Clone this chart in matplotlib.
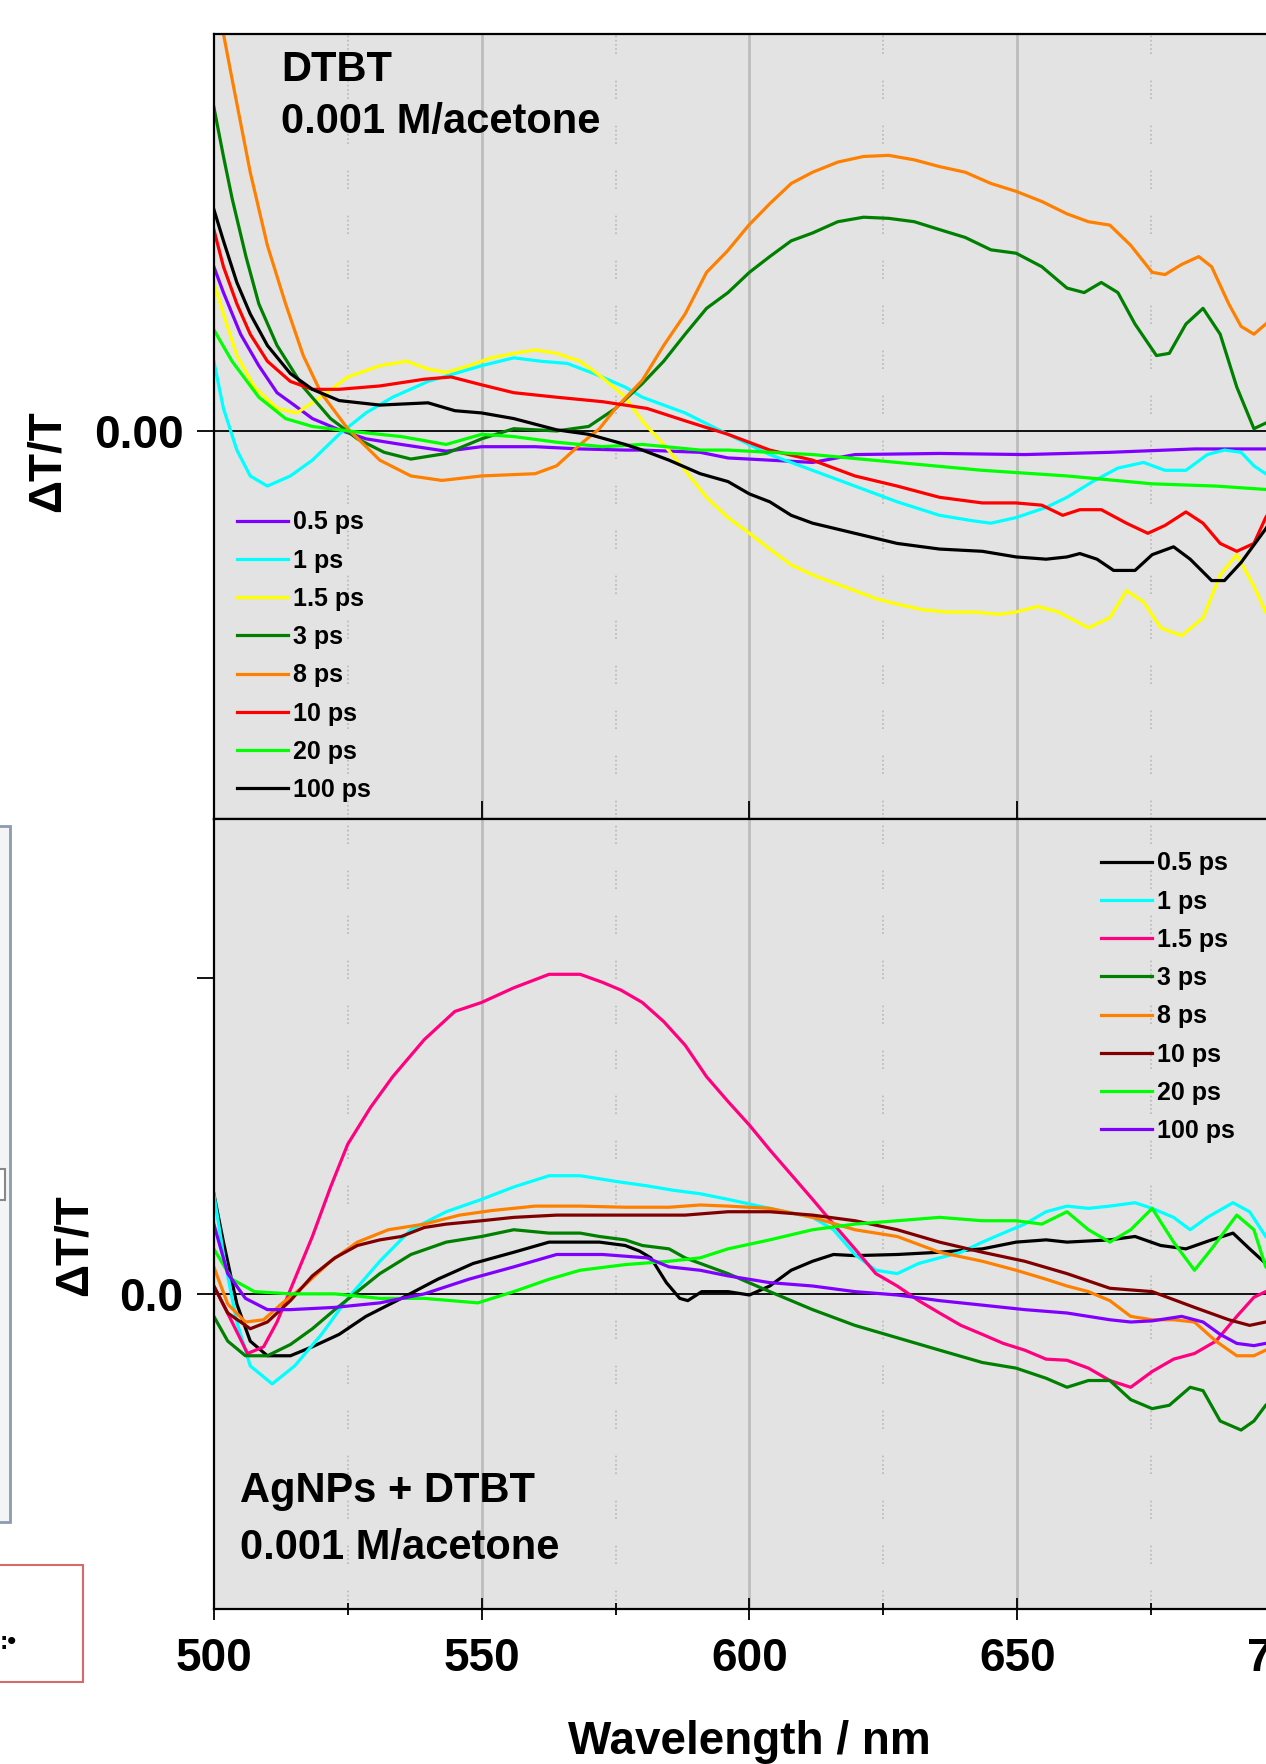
import matplotlib
matplotlib.use("Agg")
import matplotlib.pyplot as plt
from matplotlib.patches import Rectangle
import numpy as np

plt.rcParams['font.family'] = ['Liberation Sans', 'DejaVu Sans']
plt.rcParams['font.weight'] = 'bold'

labels = ["0.5 ps", "1 ps", "1.5 ps", "3 ps", "8 ps", "10 ps", "20 ps", "100 ps"]

# ---- top panel: DTBT (ΔT/T, arbitrary x1e-3 units) ----
x_t05 = [500, 501.8, 505, 508.4, 511.8, 515, 518.4, 523.4, 528.4, 535, 543.4, 550, 560, 568.4,
         576.8, 580, 590.8, 596, 611.8, 619.7, 635.5, 651.4, 667.3, 683.1, 696.4, 700]
y_t05 = [14.6, 12.3, 8.6, 5.8, 3.4, 2.3, 1.1, 0.1, -0.7, -1.2, -1.8, -1.4, -1.4, -1.6,
         -1.7, -1.7, -1.9, -2.4, -2.8, -2.1, -2.0, -2.1, -1.9, -1.6, -1.6, -1.6]

x_t1 = [500, 501.8, 504.3, 506.8, 510, 514.3, 518.4, 523.4, 528.4, 533.4, 540, 545, 550, 556, 561,
        566, 571, 576.8, 580, 588, 596, 603.8, 611.8, 619.7, 627.6, 635.5, 641.9, 645.1, 649.8,
        655.4, 659.3, 664.1, 668.8, 673.6, 677.6, 681.5, 685.5, 688.7, 691.8, 694.2, 696.4, 700]
y_t1 = [6.2, 2.0, -1.7, -4.0, -4.9, -4.0, -2.6, -0.3, 1.6, 3.0, 4.4, 5.1, 5.8, 6.5, 6.2,
        6.0, 5.1, 3.9, 3.0, 1.6, -0.3, -2.1, -3.5, -4.9, -6.3, -7.5, -8.0, -8.2, -7.7,
        -6.8, -5.9, -4.5, -3.3, -2.8, -3.5, -3.5, -2.1, -1.7, -1.9, -3.1, -3.8, -4.5]

x_t15 = [500, 501.8, 504.3, 507.6, 511.8, 515.5, 520, 525, 531, 536, 540, 543.4, 547.6, 551.8, 556,
         560, 564, 568.4, 572.4, 576.4, 580.5, 584, 588, 592, 596, 600, 603.8, 607.8, 611.8,
         615.7, 619.7, 623.6, 627.6, 632.4, 637.1, 641.9, 646.6, 649.8, 653.8, 657.7, 663.3,
         667.3, 670.4, 673.6, 676.8, 680.7, 684.7, 687.9, 691, 694.2, 696.4, 700]
y_t15 = [13.2, 10.4, 6.7, 3.9, 2.0, 1.6, 3.0, 4.8, 5.8, 6.2, 5.5, 5.2, 5.8, 6.5, 6.9,
         7.2, 6.9, 6.2, 4.8, 3.2, 0.6, -1.2, -3.5, -5.9, -7.7, -9.1, -10.5, -11.9, -12.8,
         -13.5, -14.2, -14.9, -15.4, -15.9, -16.1, -16.1, -16.3, -16.1, -15.6, -16.1, -17.5,
         -16.6, -14.2, -15.2, -17.5, -18.2, -16.6, -12.8, -11.0, -13.8, -16.1, -18.0]

x_t3 = [500, 501.8, 503.4, 506, 508.4, 511.8, 516.7, 521.8, 526.8, 531.8, 536.8, 543.4, 550, 556,
        564, 570, 575, 580, 584, 588, 592, 596, 600, 603.8, 607.8, 611.8, 616.5, 621.3, 626,
        630.8, 635.5, 640.3, 645.1, 649.8, 654.6, 659.3, 662.5, 665.7, 668.8, 672, 676, 678.4,
        681.5, 684.7, 687.9, 691, 694.2, 696.4, 700]
y_t3 = [28.8, 24.4, 20.7, 15.5, 11.3, 7.6, 3.9, 1.1, -0.7, -1.9, -2.5, -2.0, -0.7, 0.2,
        0.0, 0.4, 2.0, 4.2, 6.2, 8.6, 10.9, 12.3, 14.1, 15.5, 16.9, 17.6, 18.6, 19.0, 18.9,
        18.6, 17.9, 17.2, 16.1, 15.8, 14.6, 12.7, 12.3, 13.2, 12.3, 9.5, 6.7, 6.9,
        9.5, 10.9, 8.6, 3.9, 0.2, 0.7, 1.5]

x_t8 = [500, 501.8, 503.4, 506.8, 510, 513.4, 516.7, 520, 525, 531, 536.8, 542.6, 550, 560, 564,
        568.4, 572, 575, 580, 584, 588, 592, 595.9, 599.9, 603.8, 607.8, 611.8, 616.5, 621.3,
        626, 630.8, 635.5, 640.3, 645.1, 649.8, 654.6, 659.3, 663.3, 667.3, 671.2, 675.2,
        677.6, 680.7, 683.9, 686.3, 689.5, 691.8, 694.2, 696.4, 700]
y_t8 = [44.0, 35.3, 31.3, 23.0, 16.5, 11.3, 6.7, 3.4, 0.2, -2.6, -4.0, -4.4, -4.0, -3.8, -3.1,
        -1.2, 0.2, 2.0, 4.5, 7.6, 10.4, 14.1, 16.0, 18.3, 20.2, 22.0, 23.0, 23.9, 24.4,
        24.5, 24.1, 23.5, 23.0, 22.0, 21.3, 20.4, 19.3, 18.6, 18.3, 16.5, 14.1,
        13.9, 14.8, 15.5, 14.6, 11.3, 9.3, 8.6, 9.5, 11.0]

x_t10 = [500, 501.8, 504.3, 506.8, 510, 514.3, 518.4, 523.4, 531, 539.3, 544.3, 550, 556, 564,
         572.6, 580.9, 588, 596, 603.8, 611.8, 619.7, 627.6, 635.5, 643.5, 649.8, 654.6, 658.5,
         661.7, 665.7, 670.4, 674.4, 677.6, 681.5, 684.7, 687.9, 691, 694.2, 696.4, 700]
y_t10 = [17.9, 14.6, 11.3, 8.6, 6.2, 4.4, 3.7, 3.7, 4.0, 4.6, 4.8, 4.1, 3.4, 3.0,
         2.6, 2.0, 0.9, -0.3, -1.7, -2.6, -4.0, -4.9, -5.9, -6.4, -6.4, -6.6, -7.5,
         -7.0, -7.0, -8.2, -9.1, -8.4, -7.2, -8.2, -10.0, -10.7, -10.0, -7.7, -5.0]

x_t20 = [500, 503.4, 508.4, 513.4, 518.4, 525, 535, 543.4, 550, 556, 564, 572.6, 580, 590.8, 596,
         611.8, 627.6, 643.5, 659.3, 675.2, 687.1, 696.4, 700]
y_t20 = [9.0, 6.2, 3.0, 1.1, 0.4, 0.0, -0.5, -1.2, -0.3, -0.5, -1.0, -1.4, -1.2, -1.7, -1.7,
         -2.1, -2.8, -3.5, -4.0, -4.7, -4.9, -5.2, -5.3]

x_t100 = [500, 501.8, 504.3, 506.8, 510, 514.3, 518.4, 523.4, 531, 540, 545, 550, 556, 564, 570,
          576.8, 580, 585, 590.8, 596, 600, 603.8, 607.8, 611.8, 619.7, 627.6, 635.5, 643.5,
          649.8, 655.4, 659.3, 661.7, 664.9, 668, 672, 675.2, 679.2, 682.3, 686.3, 688.7,
          691.8, 696.4, 700]
y_t100 = [19.7, 16.9, 13.2, 10.4, 7.6, 5.1, 3.7, 2.7, 2.3, 2.5, 1.8, 1.6, 1.1, 0.1, -0.3,
          -1.2, -1.7, -2.6, -3.8, -4.5, -5.6, -6.3, -7.5, -8.2, -9.1, -10.0, -10.5, -10.7,
          -11.2, -11.4, -11.2, -10.9, -11.4, -12.4, -12.4, -11.0, -10.3, -11.4, -13.3, -13.3,
          -11.7, -8.7, -6.0]

# ---- bottom panel: AgNPs + DTBT ----
x_b05 = [500, 501.8, 504.3, 506.8, 510, 514.3, 518.4, 523.4, 528.4, 535, 541.8, 548.4, 556, 562.6,
         568.4, 572, 576.8, 579.5, 581.6, 584.5, 587, 588.5, 591.1, 596, 600, 603.8, 607.8,
         611.8, 615.7, 619.7, 627.6, 635.5, 643.5, 649.8, 655.4, 659.3, 667.3, 672, 676.8,
         681.5, 686.3, 690.3, 693.4, 696.4, 700]
y_b05 = [8.9, 4.6, -0.9, -4.2, -5.5, -5.5, -4.7, -3.6, -2.0, -0.4, 1.3, 2.7, 3.7, 4.6,
         4.6, 4.6, 4.3, 3.8, 3.2, 1.0, -0.4, -0.6, 0.2, 0.2, -0.1, 0.7, 2.1,
         2.9, 3.5, 3.4, 3.5, 3.7, 4.0, 4.6, 4.8, 4.6, 4.8, 5.1, 4.3,
         4.0, 4.8, 5.4, 4.0, 2.7, 1.5]

x_b1 = [500, 501.8, 504.3, 506.8, 510.9, 515.1, 520.1, 525, 531, 536.8, 543.4, 550, 556, 562.6,
        568.4, 575, 580.9, 585.9, 590.8, 596, 603.8, 611.8, 615.7, 619.7, 623.6, 627.6, 631.6,
        635.5, 639.5, 643.5, 647.4, 651.4, 655.4, 659.3, 663.3, 667.3, 672, 675.2, 679.2,
        682.3, 685.5, 690.3, 693.4, 696.4, 700]
y_b1 = [8.9, 3.5, -2.5, -6.4, -8.0, -6.4, -3.6, -0.4, 2.9, 5.7, 7.3, 8.4, 9.5, 10.5,
        10.5, 10.0, 9.6, 9.2, 8.9, 8.4, 7.6, 6.8, 5.7, 3.5, 2.1, 1.8, 2.7,
        3.2, 3.7, 4.6, 5.4, 6.2, 7.3, 7.8, 7.6, 7.8, 8.1, 7.6, 6.8,
        5.7, 6.8, 8.1, 7.3, 5.1, 3.5]

x_b15 = [500, 503.4, 506.3, 509.3, 511.8, 515.1, 518.4, 521.8, 525, 529.3, 533.4, 539.3, 545, 550,
         556, 562.6, 568.4, 572.5, 576, 580, 584, 588, 592, 596, 600, 603.8, 607.8, 611.8,
         615.7, 619.7, 623.6, 627.6, 631.6, 635.5, 639.5, 643.5, 647.4, 651.4, 655.4, 659.3,
         663.3, 667.3, 671.2, 675.2, 679.2, 683.1, 687.1, 691, 694.2, 696.4, 700]
y_b15 = [0.7, -2.5, -5.3, -4.7, -2.5, 1.3, 5.1, 9.5, 13.3, 16.6, 19.3, 22.6, 25.1, 25.9,
         27.2, 28.4, 28.4, 27.7, 27.0, 25.9, 24.2, 22.1, 19.3, 17.1, 15.0, 12.8, 10.6, 8.4,
         6.2, 4.0, 1.8, 0.7, -0.6, -1.7, -2.8, -3.6, -4.4, -5.0, -5.8, -5.9,
         -6.6, -7.7, -8.3, -6.9, -5.8, -5.3, -4.2, -2.0, -0.3, 0.2, 0.8]

x_b3 = [500, 502.6, 505.9, 510, 514.3, 518.4, 522.6, 526.8, 531, 536.8, 543.4, 550, 556, 562.6,
        568.4, 572, 576.8, 580, 585, 588, 596, 603.8, 611.8, 619.7, 627.6, 635.5, 643.5,
        649.8, 655.4, 659.3, 663.3, 667.3, 671.2, 675.2, 678.4, 682.3, 684.7, 687.9, 691.8,
        694.2, 696.4, 700]
y_b3 = [-2.0, -4.2, -5.5, -5.5, -4.5, -3.1, -1.4, 0.2, 1.8, 3.5, 4.6, 5.1, 5.7, 5.4,
        5.4, 5.1, 4.8, 4.3, 4.0, 3.2, 1.8, 0.2, -1.4, -2.8, -3.9, -5.0, -6.1,
        -6.6, -7.5, -8.3, -7.7, -7.7, -9.4, -10.2, -9.9, -8.3, -8.6, -11.3, -12.1,
        -11.3, -9.9, -8.5]

x_b8 = [500, 502.6, 505.9, 509.3, 512.6, 516.8, 521.8, 526.8, 532.6, 539.3, 545.9, 551.8, 560,
        568.4, 576.8, 585, 590.8, 596, 603.8, 611.8, 619.7, 627.6, 635.5, 643.5, 649.8, 655.4,
        659.3, 663.3, 667.3, 671.2, 675.2, 679.2, 683.1, 687.1, 691, 694.2, 696.4, 700]
y_b8 = [2.4, -0.9, -2.5, -2.3, -0.9, 0.7, 2.9, 4.6, 5.7, 6.2, 7.0, 7.4, 7.8,
        7.8, 7.7, 7.7, 7.9, 7.8, 7.6, 6.8, 5.7, 5.1, 3.7, 2.9, 2.1, 1.3,
        0.7, 0.2, -0.6, -2.0, -2.3, -2.3, -2.5, -4.2, -5.5, -5.5, -5.0, -4.5]

x_b10 = [500, 502.6, 506.8, 510, 514.3, 518.4, 522.6, 526.8, 531, 535, 539.3, 543.4, 550, 556,
         564, 572.6, 580.9, 588, 596, 603.8, 611.8, 619.7, 627.6, 635.5, 643.5, 651.4, 659.3,
         667.3, 675.2, 683.1, 689.5, 693.4, 696.4, 700]
y_b10 = [0.7, -1.7, -3.1, -2.5, -0.6, 1.6, 3.2, 4.3, 4.8, 5.1, 5.9, 6.2, 6.5, 6.8,
         7.0, 7.0, 7.0, 7.0, 7.3, 7.3, 7.0, 6.5, 5.7, 4.6, 3.7, 2.9, 1.8,
         0.5, 0.2, -1.2, -2.3, -2.8, -2.5, -2.3]

x_b20 = [500, 503.4, 507.6, 514.3, 522.6, 531, 539.3, 549.3, 556, 562.6, 568.4, 576.8, 585, 590.8,
         596, 603.8, 611.8, 619.7, 627.6, 635.5, 643.5, 649.8, 654.6, 659.3, 663.3, 667.3,
         671.2, 675.2, 679.2, 683.1, 686.3, 691, 694.2, 696.4, 700]
y_b20 = [4.0, 1.3, 0.2, 0.0, 0.0, -0.4, -0.4, -0.8, 0.2, 1.3, 2.1, 2.6, 2.9, 3.2,
         4.0, 4.8, 5.7, 6.2, 6.5, 6.8, 6.5, 6.5, 6.2, 7.3, 5.7, 4.6,
         5.7, 7.6, 4.6, 2.1, 4.0, 7.0, 5.7, 2.4, 1.0]

x_b100 = [500, 502.6, 505.9, 510, 514.3, 522.6, 531, 539.3, 547.6, 556, 564, 572.6, 580.9, 585,
          590.8, 596, 603.8, 611.8, 619.7, 627.6, 635.5, 643.5, 651.4, 659.3, 667.3, 671.2,
          675.2, 680.7, 684.7, 687.9, 691, 694.2, 696.4, 700]
y_b100 = [6.2, 1.8, -0.4, -1.4, -1.4, -1.2, -0.8, 0.0, 1.3, 2.4, 3.5, 3.5, 3.2, 2.4,
          2.1, 1.6, 1.0, 0.7, 0.2, -0.1, -0.6, -1.0, -1.4, -1.7, -2.3, -2.5,
          -2.4, -2.0, -2.5, -3.6, -4.4, -4.6, -4.4, -4.2]

top_x = [x_t05, x_t1, x_t15, x_t3, x_t8, x_t10, x_t20, x_t100]
top_y = [y_t05, y_t1, y_t15, y_t3, y_t8, y_t10, y_t20, y_t100]
top_colors = ["#8000ff", "#00ffff", "#ffff00", "#008000", "#ff8000", "#ff0000", "#00ff00", "black"]

bot_x = [x_b05, x_b1, x_b15, x_b3, x_b8, x_b10, x_b20, x_b100]
bot_y = [y_b05, y_b1, y_b15, y_b3, y_b8, y_b10, y_b20, y_b100]
bot_colors = ["black", "#00ffff", "#ff0080", "#008000", "#ff8000", "#800000", "#00ff00", "#8000ff"]

fig = plt.figure(figsize=(12.66, 17.64), dpi=100)
ax1 = fig.add_axes([0.1689, 0.5357, 0.8461, 0.4451])
ax2 = fig.add_axes([0.1689, 0.0879, 0.8461, 0.4478])


def style(ax):
    ax.set_facecolor("#e3e3e3")
    ax.set_xlim(500, 700)
    ax.set_xticks([500, 550, 600, 650, 700])
    ax.set_xticks([525, 575, 625, 675], minor=True)
    for v in [550, 600, 650]:
        ax.axvline(v, color="#bdbdbd", lw=2, zorder=0.5)
    for v in [525, 575, 625, 675]:
        ax.axvline(v, color="#b8b8b8", lw=1.2,
                   ls=(0, (1, 1.5, 1, 1.5, 1, 1.5, 1, 1.5, 1, 16)), zorder=0.5)
    ax.axhline(0, color="black", lw=1.3, zorder=1)
    for s in ax.spines.values():
        s.set_linewidth(1.6)
    ax.tick_params(axis="y", direction="out", length=12, width=1.3, pad=10, labelsize=33)


for xs, ys, c, lab in zip(top_x, top_y, top_colors, labels):
    ax1.plot(xs, ys, color=c, lw=2.3, label=lab, zorder=2)
style(ax1)
ax1.set_ylim(-34.5, 35.3)
ax1.set_yticks([0])
ax1.set_yticklabels(["0.00"])
ax1.tick_params(axis="x", which="major", direction="in", length=13, width=1.3, labelbottom=False)
ax1.tick_params(axis="x", which="minor", length=0)
ax1.set_ylabel("ΔT/T", fontsize=33, fontweight="bold")
ax1.yaxis.set_label_coords(-0.1348, 0.456)
ax1.text(0.0627, 0.954, "DTBT", transform=ax1.transAxes, fontsize=30, va="center")
ax1.text(0.0627, 0.888, "0.001 M/acetone", transform=ax1.transAxes, fontsize=30, va="center")
ax1.legend(loc="upper left", bbox_to_anchor=(0.0214, 0.393), frameon=False, fontsize=18,
           borderpad=0, borderaxespad=0, handlelength=2.04, handletextpad=0.22,
           labelspacing=0.57)

for xs, ys, c, lab in zip(bot_x, bot_y, bot_colors, labels):
    ax2.plot(xs, ys, color=c, lw=2.3, label=lab, zorder=2)
style(ax2)
ax2.set_ylim(-28, 42.2)
ax2.set_yticks([0, 28.1])
ax2.set_yticklabels(["0.0", ""])
ax2.tick_params(axis="x", which="major", direction="inout", length=16, width=1.3, pad=12, labelsize=33)
ax2.tick_params(axis="x", which="minor", direction="inout", length=9, width=1.3)
ax2.set_ylabel("ΔT/T", fontsize=33, fontweight="bold")
ax2.yaxis.set_label_coords(-0.109, 0.461)
ax2.set_xlabel("Wavelength / nm", fontsize=33, fontweight="bold")
ax2.xaxis.set_label_coords(0.5, -0.168)
ax2.xaxis.label.set_va("center")
ax2.text(0.0245, 0.149, "AgNPs + DTBT", transform=ax2.transAxes, fontsize=30, va="center")
ax2.text(0.0245, 0.077, "0.001 M/acetone", transform=ax2.transAxes, fontsize=30, va="center")
ax2.legend(loc="upper left", bbox_to_anchor=(0.828, 0.959), frameon=False, fontsize=18,
           borderpad=0, borderaxespad=0, handlelength=2.04, handletextpad=0.22,
           labelspacing=0.57)

# leftovers of the neighbouring panels at the left edge of the crop
fig.add_artist(Rectangle((-0.01, 0.1372), 0.0179, 0.3945, transform=fig.transFigure,
                         facecolor="#f4f4f4", edgecolor="#8c9bb0", lw=2))
fig.add_artist(Rectangle((-0.005, 0.3197), 0.009, 0.0176, transform=fig.transFigure,
                         facecolor="white", edgecolor="#888888", lw=1.5))
fig.add_artist(Rectangle((-0.01, 0.0465), 0.0756, 0.0663, transform=fig.transFigure,
                         facecolor="white", edgecolor="#d46a6a", lw=1.5))
fig.text(0.0, 1 - 1642 / 1764, ":•", fontsize=18, va="center", ha="left")

fig.savefig("out.png", dpi=100)
